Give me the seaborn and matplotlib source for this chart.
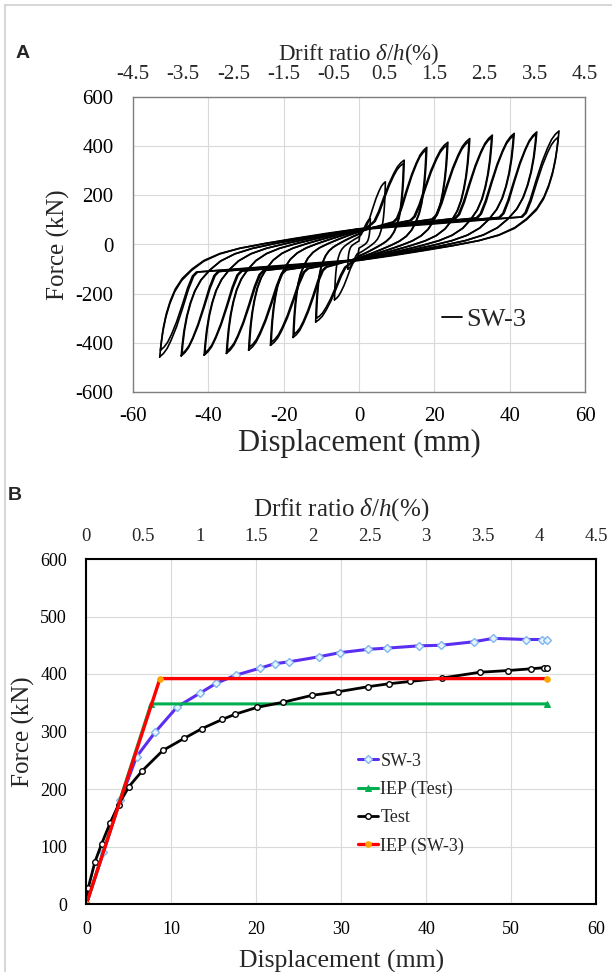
import numpy as np
import pandas as pd
import matplotlib
matplotlib.use("Agg")
import matplotlib.pyplot as plt
from matplotlib.lines import Line2D
import seaborn as sns

# ---- panel A: cyclic loops, tips of each loop ----
pos_peak_disp = [3.0, 7.0, 12.0, 11.8, 18.0, 17.8, 23.6, 23.4, 29.4, 29.2, 35.4, 35.2, 41.2, 41.0, 47.2, 47.0, 53.1, 52.9]
pos_peak_force = [105, 255, 343, 330, 395, 385, 416, 405, 431, 420, 445, 436, 452, 443, 458, 450, 462, 437]
neg_peak_disp = [-3.0, -6.5, -11.5, -11.3, -17.5, -17.3, -23.5, -23.3, -29.3, -29.1, -35.2, -35.0, -41.1, -40.9, -47.2, -47.0, -52.9, -52.7]
neg_peak_force = [-100, -225, -315, -300, -378, -366, -410, -398, -430, -418, -443, -433, -450, -441, -453, -445, -457, -430]
# width of the steep reloading branch (mm) and the force of the pinched plateau it starts from
reload_width = [2.5, 5, 8, 7.5, 8, 7.5, 9, 8.5, 9, 8.5, 9, 8.5, 9, 8.5, 9, 8.5, 9, 8.5]
plateau_force = [35, 65, 82, 82, 92, 92, 98, 98, 103, 103, 106, 106, 108, 108, 110, 110, 112, 112]
# unloading branch shape (fractions of the tip)
unload_disp_frac = [1, .995, .985, .97, .95, .925, .89, .84, .78, .70, .60, .47, .32, .16, 0]
unload_force_frac = [1, .91, .78, .65, .53, .42, .32, .23, .15, .085, .035, -.01, -.055, -.10, -.14]
# reloading branch shape, from the plateau (0) to the tip (1)
reload_disp_frac = [1.12, 1, .85, .68, .5, .34, .22, .11, 0]
reload_force_frac = [0, .05, .2, .42, .64, .8, .9, .96, 1]

drift_ticks_a = [-4.5, -3.5, -2.5, -1.5, -0.5, 0.5, 1.5, 2.5, 3.5, 4.5]

# ---- panel B: envelope curves ----
sw3_disp = [0, 2.0, 4.0, 5.9, 8.1, 10.7, 13.4, 15.3, 17.6, 20.4, 22.2, 23.8, 27.4, 29.8, 33.2, 35.4, 39.2, 41.8, 45.6, 47.9, 51.7, 53.6, 54.2]
sw3_force = [0, 90, 181, 256, 299, 343, 367, 384, 398, 410, 418, 421, 430, 437, 443, 445, 449, 450, 456, 462, 460, 460, 460]
test_disp = [0, 0.2, 1.0, 1.8, 2.8, 3.8, 5.0, 6.6, 9.0, 11.5, 13.6, 16.0, 17.5, 20.1, 23.2, 26.6, 29.6, 33.2, 35.6, 38.1, 41.9, 46.3, 49.6, 52.3, 53.9, 54.2]
test_force = [0, 27, 73, 105, 141, 173, 204, 232, 267, 288, 305, 321, 330, 342, 351, 363, 369, 378, 383, 387, 393, 403, 406, 409, 411, 411]
iep_test_disp = [0, 7.6, 54.2]
iep_test_force = [0, 348, 348]
iep_sw3_disp = [0, 8.66, 54.2]
iep_sw3_force = [0, 392, 392]

drift_ticks_b = [0, 0.5, 1, 1.5, 2, 2.5, 3, 3.5, 4, 4.5]
drift_per_mm = 4.5 / 60

sns.set_theme(style="white")
plt.rcParams['font.family'] = ['Liberation Serif', 'DejaVu Serif']
plt.rcParams['mathtext.fontset'] = 'custom'
plt.rcParams['mathtext.rm'] = 'Liberation Serif'
plt.rcParams['mathtext.it'] = 'Liberation Serif:italic'
plt.rcParams['axes.unicode_minus'] = False

fig = plt.figure(figsize=(6.12, 9.72), dpi=100)
fig.add_artist(Line2D([5 / 612, 5 / 612], [0, 1 - 5 / 972], color='#d0d0d0', lw=1.2))
fig.add_artist(Line2D([5 / 612, 1], [1 - 5 / 972, 1 - 5 / 972], color='#d0d0d0', lw=1.2))

# loop table: each cycle goes negative tip -> plateau -> positive tip -> plateau -> negative tip
rows = []
for i in range(len(pos_peak_disp)):
    dp, fp = pos_peak_disp[i], pos_peak_force[i]
    dn, fn = neg_peak_disp[i], neg_peak_force[i]
    w, pl = reload_width[i], plateau_force[i]
    path = [(dn * a, fn * b) for a, b in zip(unload_disp_frac, unload_force_frac)]
    path += [(dp - w * a, pl + (fp - pl) * b) for a, b in zip(reload_disp_frac, reload_force_frac)]
    path += [(dp * a, fp * b) for a, b in zip(unload_disp_frac, unload_force_frac)]
    path += [(dn + w * a, -pl + (fn + pl) * b) for a, b in zip(reload_disp_frac, reload_force_frac)]
    for j, (d, f) in enumerate(path):
        rows.append({'cycle': i, 'step': j, 'disp': d, 'force': f})
loops = pd.DataFrame(rows)

grid_kw = dict(color='#d9d9d9', lw=0.8)

# ---------------- panel A ----------------
axA = fig.add_axes([133 / 612, 1 - 392 / 972, 452 / 612, 295 / 972])
sns.lineplot(data=loops, x='disp', y='force', units='cycle', estimator=None, sort=False,
             color='black', lw=1.2, legend=False, ax=axA)
axA.set_xlim(-60, 60)
axA.set_ylim(-600, 600)
axA.set_xticks(range(-60, 61, 20))
axA.set_yticks(range(-600, 601, 200))
axA.grid(True, **grid_kw)
axA.set_axisbelow(True)
for s in axA.spines.values():
    s.set_color('#7f7f7f')
    s.set_linewidth(1.0)
axA.tick_params(axis='both', length=0, labelsize=15, colors='black')
axA.tick_params(axis='x', pad=11)
axA.tick_params(axis='y', pad=14)
axA.set_xlabel('Displacement (mm)', fontsize=22, labelpad=2)
axA.set_ylabel('Force (kN)', fontsize=18, labelpad=4)
secA = axA.secondary_xaxis('top', functions=(lambda x: x * drift_per_mm, lambda x: x / drift_per_mm))
secA.set_xticks(drift_ticks_a)
secA.set_xticklabels([f'{t:g}' for t in drift_ticks_a])
secA.tick_params(length=0, labelsize=15, pad=9)
secA.spines['top'].set_visible(False)
secA.set_xlabel(r'Drift ratio $\delta$/$h$(%)', fontsize=16.5, labelpad=4)
axA.legend(handles=[Line2D([0], [0], color='black', lw=1.3)], labels=['SW-3'],
           loc='center left', bbox_to_anchor=(0.655, 0.245), frameon=False,
           fontsize=19, handlelength=0.75, handletextpad=0.15, borderpad=0)
fig.text(23 / 612, 1 - 53 / 972, 'A', fontsize=14, fontweight='bold',
         family='Liberation Sans', ha='center', va='center')

# ---------------- panel B ----------------
axB = fig.add_axes([86.4 / 612, 1 - 904 / 972, 509.6 / 612, 345 / 972])
sns.lineplot(x=sw3_disp, y=sw3_force, sort=False, color='#5b2ff0', lw=2.2, label='SW-3',
             marker='D', markersize=4.5, markerfacecolor='#e8f3ff', markeredgecolor='#7fb6ee',
             markeredgewidth=1.0, ax=axB)
sns.lineplot(x=iep_test_disp, y=iep_test_force, sort=False, color='#00b050', lw=2.2, label='IEP (Test)',
             marker='^', markersize=4, markerfacecolor='#00b050', markeredgecolor='#00b050', ax=axB)
sns.lineplot(x=test_disp, y=test_force, sort=False, color='black', lw=2.0, label='Test',
             marker='o', markersize=4, markerfacecolor='white', markeredgecolor='black',
             markeredgewidth=1.0, ax=axB)
sns.lineplot(x=iep_sw3_disp, y=iep_sw3_force, sort=False, color='#ff0000', lw=2.4, label='IEP (SW-3)',
             marker='o', markersize=4, markerfacecolor='#ffa500', markeredgecolor='#ffa500', ax=axB)
axB.set_xlim(0, 60)
axB.set_ylim(0, 600)
axB.set_xticks(range(0, 61, 10))
axB.set_yticks(range(0, 601, 100))
axB.grid(True, **grid_kw)
axB.set_axisbelow(True)
for s in axB.spines.values():
    s.set_color('black')
    s.set_linewidth(1.5)
axB.tick_params(axis='both', length=0, labelsize=13, colors='black')
axB.tick_params(axis='x', pad=12)
axB.tick_params(axis='y', pad=14)
axB.set_xlabel('Displacement (mm)', fontsize=18.5, labelpad=9)
axB.set_ylabel('Force (kN)', fontsize=18, labelpad=4)
secB = axB.secondary_xaxis('top', functions=(lambda x: x * drift_per_mm, lambda x: x / drift_per_mm))
secB.set_xticks(drift_ticks_b)
secB.set_xticklabels([f'{t:g}' for t in drift_ticks_b])
secB.tick_params(length=0, labelsize=13.5, pad=10)
secB.spines['top'].set_visible(False)
secB.set_xlabel(r'Drfit ratio $\delta$/$h$(%)', fontsize=18, labelpad=9)
axB.legend(loc='upper left', bbox_to_anchor=(0.515, 0.465), frameon=False, fontsize=13,
           handlelength=1.1, handletextpad=0.15, labelspacing=0.62, borderpad=0)
fig.text(15 / 612, 1 - 495 / 972, 'B', fontsize=14, fontweight='bold',
         family='Liberation Sans', ha='center', va='center')

fig.savefig('out.png', dpi=100)
